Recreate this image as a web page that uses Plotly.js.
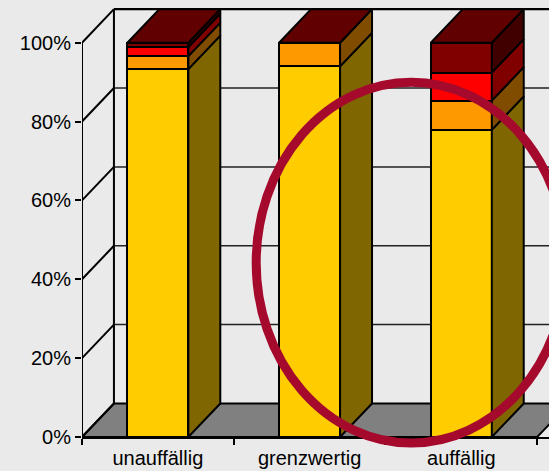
<!DOCTYPE html>
<html>
<head>
<meta charset="utf-8">
<script src="https://cdn.plot.ly/plotly-3.0.1.min.js"></script>
<style>html,body{margin:0;padding:0;background:#eaeaea;overflow:hidden}</style>
</head>
<body>
<div id="chart" style="width:549px;height:471px"></div>
<script>
// Stacked shares per group, bottom to top, in percent
const categories = ['unauffällig', 'grenzwertig', 'auffällig'];
const seriesA = [93.3, 94.0, 77.9];
const seriesB = [3.3, 6.0, 7.4];
const seriesC = [2.3, 0, 7.1];
const seriesD = [1.1, 0, 7.6];
const yTicks = [0, 20, 40, 60, 80, 100];
const yLabels = ['0%', '20%', '40%', '60%', '80%', '100%'];

const frontColors = ['#ffcc00', '#ff9900', '#ff0000', '#800000'];
const sideColors = ['#806600', '#804d00', '#800000', '#400000'];
const topColor = '#600000';

// Oblique depth of the fake 3D box, in axis units
const depthX = 0.2105;
const depthY = 8.5;
const barWidth = 0.402;
const groups = categories.map((_, i) => i + 0.5);
const allSeries = [seriesA, seriesB, seriesC, seriesD];

const edge = {color: '#000', width: 2};
const traces = [];

// Front faces: ordinary stacked bars
allSeries.forEach((vals, s) => {
  traces.push({
    type: 'bar', x: groups, y: vals, width: barWidth,
    marker: {color: frontColors[s], line: edge},
    hoverinfo: 'skip', showlegend: false
  });
});

// Side and top faces follow the stack heights
groups.forEach((cx, g) => {
  const right = cx + barWidth / 2;
  const left = cx - barWidth / 2;
  let base = 0;
  allSeries.forEach((vals, s) => {
    const v = vals[g];
    if (v > 0) {
      traces.push({
        type: 'scatter', mode: 'lines', fill: 'toself', fillcolor: sideColors[s],
        x: [right, right + depthX, right + depthX, right, right],
        y: [base, base + depthY, base + v + depthY, base + v, base],
        line: edge, hoverinfo: 'skip', showlegend: false
      });
    }
    base += v;
  });
  traces.push({
    type: 'scatter', mode: 'lines', fill: 'toself', fillcolor: topColor,
    x: [left, right, right + depthX, left + depthX, left],
    y: [base, base, base + depthY, base + depthY, base],
    line: edge, hoverinfo: 'skip', showlegend: false
  });
});

// Box behind the bars: floor, walls and grid
const line = (x0, y0, x1, y1, color, width) => ({
  type: 'line', layer: 'below', xref: 'x', yref: 'y', x0, y0, x1, y1,
  line: {color, width}
});
const xEnd = categories.length;
const shapes = [{
  type: 'path', layer: 'below', xref: 'x', yref: 'y',
  path: `M0 0L${xEnd} 0L${xEnd + depthX} ${depthY}L${depthX} ${depthY}Z`,
  fillcolor: '#808080', line: edge
}];
yTicks.forEach(t => {
  const major = t === 100;
  shapes.push(line(0, t, depthX, t + depthY, '#000', 2));
  if (t > 0) shapes.push(line(depthX, t + depthY, xEnd + depthX, t + depthY, major ? '#000' : '#222', major ? 2.2 : 1.5));
});
shapes.push(line(0, 0, 0, 100, '#000', 2));
shapes.push(line(depthX, depthY, depthX, 100 + depthY, '#000', 2));

// Highlight ring around the two right-hand groups
shapes.push({
  type: 'circle', layer: 'above', xref: 'paper', yref: 'paper',
  x0: 0.373, x1: 1.037, y0: -0.014, y1: 0.827,
  fillcolor: 'rgba(0,0,0,0)', line: {color: '#a50a2d', width: 9}
});

const layout = {
  width: 549, height: 471,
  margin: {l: 82, r: 0, t: 8, b: 34, pad: 0},
  paper_bgcolor: '#eaeaea', plot_bgcolor: '#eaeaea',
  barmode: 'stack', showlegend: false, shapes,
  font: {family: 'Liberation Sans, Arial, sans-serif', color: '#000'},
  xaxis: {
    range: [0, 3.078], tickmode: 'array', tickvals: groups, ticktext: categories,
    ticks: '', ticklabelstandoff: 2, tickfont: {size: 20}, showgrid: false, zeroline: false,
    showline: true, linecolor: '#000', linewidth: 2,
    minor: {tickmode: 'array', tickvals: [0, 1, 2, 3], ticks: 'outside', ticklen: 6, tickwidth: 2, tickcolor: '#000', showgrid: false}
  },
  yaxis: {
    range: [0, 108.8], tickmode: 'array', tickvals: yTicks, ticktext: yLabels,
    ticks: 'outside', ticklen: 6, tickwidth: 2, tickcolor: '#000',
    tickfont: {size: 20}, showgrid: false, zeroline: false, showline: false
  }
};

Plotly.newPlot('chart', traces, layout, {staticPlot: true, displayModeBar: false});
</script>
</body>
</html>
